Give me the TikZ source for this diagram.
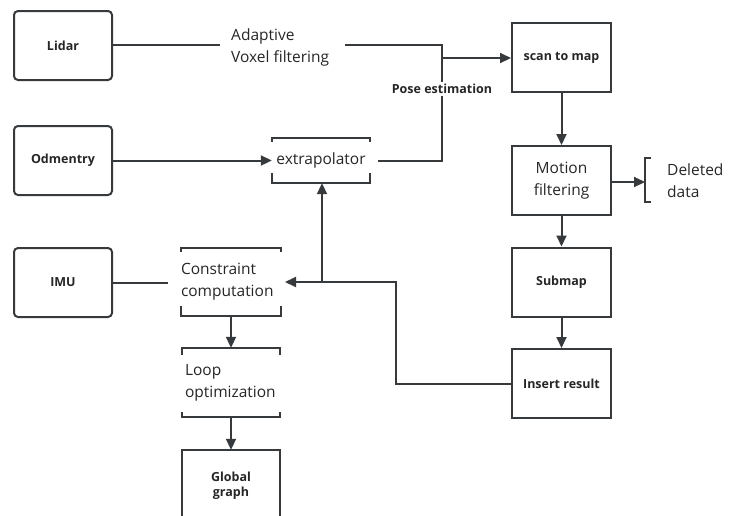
\documentclass[tikz,border=0pt]{standalone}
\usepackage{fontspec}
\setmainfont{Open Sans}
\usetikzlibrary{arrows.meta}
\definecolor{ln}{HTML}{363A3D}
\definecolor{tx}{HTML}{262626}
\tikzset{
  box/.style={draw=ln, line width=2pt, minimum width=98pt, minimum height=69pt, inner sep=0pt, text=tx, font=\fontsize{12.5}{15}\selectfont\bfseries, align=center},
  rbox/.style={box, rounded corners=4pt},
  plain/.style={inner sep=0pt, minimum width=98pt, text=tx, font=\fontsize{15.5}{22}\selectfont, align=left},
  bl/.style={ln, line width=2pt},
  conn/.style={ln, line width=2pt},
  arr/.style={conn, -{Triangle[length=11pt,width=10pt]}},
  lbl/.style={text=tx, inner sep=1pt, align=left, font=\fontsize{15.5}{22}\selectfont},
}
\begin{document}
\begin{tikzpicture}[x=1pt,y=-1pt]
\useasboundingbox (0,0) rectangle (736,515);
% left column
\node[rbox] (lidar) at (63,45.5) {Lidar};
\node[rbox] (odo) at (63,160.5) {Odmentry};
\node[rbox] (imu) at (63,282.5) {IMU};
% right column
\node[box, minimum width=99pt] (scan) at (561.5,57.5) {scan to map};
\node[box, minimum width=99pt, font=\fontsize{15.5}{22}\selectfont] (motion) at (561.5,180.5) {Motion\\filtering};
\node[box, minimum width=99pt] (submap) at (561.5,282) {Submap};
\node[box, minimum width=99pt] (insert) at (561.5,383.5) {Insert result};
% bracket boxes
\node[plain, minimum height=45pt, align=center] (extra) at (321,160.5) {extrapolator};
\draw[bl] ([yshift=-4pt]extra.north west) -- (extra.north west) -- (extra.north east) -- ([yshift=-4pt]extra.north east);
\draw[bl] ([yshift=10pt]extra.south west) -- (extra.south west) -- (extra.south east) -- ([yshift=10pt]extra.south east);
\node[plain, minimum height=68pt, text width=100pt, align=left] (cons) at (231,282) {Constraint\\computation};
\draw[bl] ([yshift=-4pt]cons.north west) -- (cons.north west) -- (cons.north east) -- ([yshift=-4pt]cons.north east);
\draw[bl] ([yshift=10pt]cons.south west) -- (cons.south west) -- (cons.south east) -- ([yshift=10pt]cons.south east);
\node[plain, minimum height=69pt, text width=92pt, align=left] (loop) at (231,382.5) {Loop\\optimization};
\draw[bl] ([yshift=-7pt]loop.north west) -- (loop.north west) -- (loop.north east) -- ([yshift=-7pt]loop.north east);
\draw[bl] ([yshift=5pt]loop.south west) -- (loop.south west) -- (loop.south east) -- ([yshift=5pt]loop.south east);
\node[inner sep=0pt, minimum width=98pt, minimum height=72pt, text=tx, font=\fontsize{12.5}{15}\selectfont\bfseries, align=center] (global) at (231,486) {Global\\graph};
\draw[bl] ([yshift=5pt]global.south west) -- (global.north west) -- (global.north east) -- ([yshift=5pt]global.south east);
% labels
\node[lbl, anchor=west] (adapt) at (230,47) {Adaptive\\Voxel filtering};
\node[lbl, anchor=west] (deleted) at (666,181) {Deleted\\data};
% connectors
\coordinate (a1) at (220,45);
\coordinate (a2) at (345,45);
\coordinate (pj) at (442,45);
\coordinate (pk) at (442,58);
\coordinate (pb) at (442,160.5);
\coordinate (ex) at (378,160.5);
\draw[conn] (lidar.east |- a1) -- (a1);
\draw[conn] (a2) -- (pj) -- (pb) -- (ex);
\draw[arr] (pk) -- (scan.west |- pk);
\node[fill=white, inner sep=2pt, text=tx, font=\fontsize{12.5}{15}\selectfont\bfseries] (pose) at (442,89) {Pose estimation};
\draw[arr] (odo.east) -- (extra.west);
\draw[arr] (scan.south) -- (motion.north);
\draw[arr] (motion.south) -- (submap.north);
\draw[arr] (submap.south) -- (insert.north);
\coordinate (br) at (645,182);
\draw[arr] (motion.east |- br) -- (br);
\draw[bl] (651,158) -- (645,158) -- (645,202) -- (651,202);
\coordinate (ib) at (396,282);
\coordinate (jn) at (322,282);
\coordinate (ce) at (285,282);
\draw[conn] (insert.west) -- (insert.west -| ib) -- (ib) -- (jn);
\draw[arr] (jn) -- (ce);
\draw[arr] (jn) -- (jn |- extra.south);
\coordinate (ie) at (168,282.5);
\draw[conn] (imu.east) -- (ie);
\draw[arr] (cons.south) -- (loop.north);
\draw[arr] (loop.south) -- (global.north);
\end{tikzpicture}
\end{document}
